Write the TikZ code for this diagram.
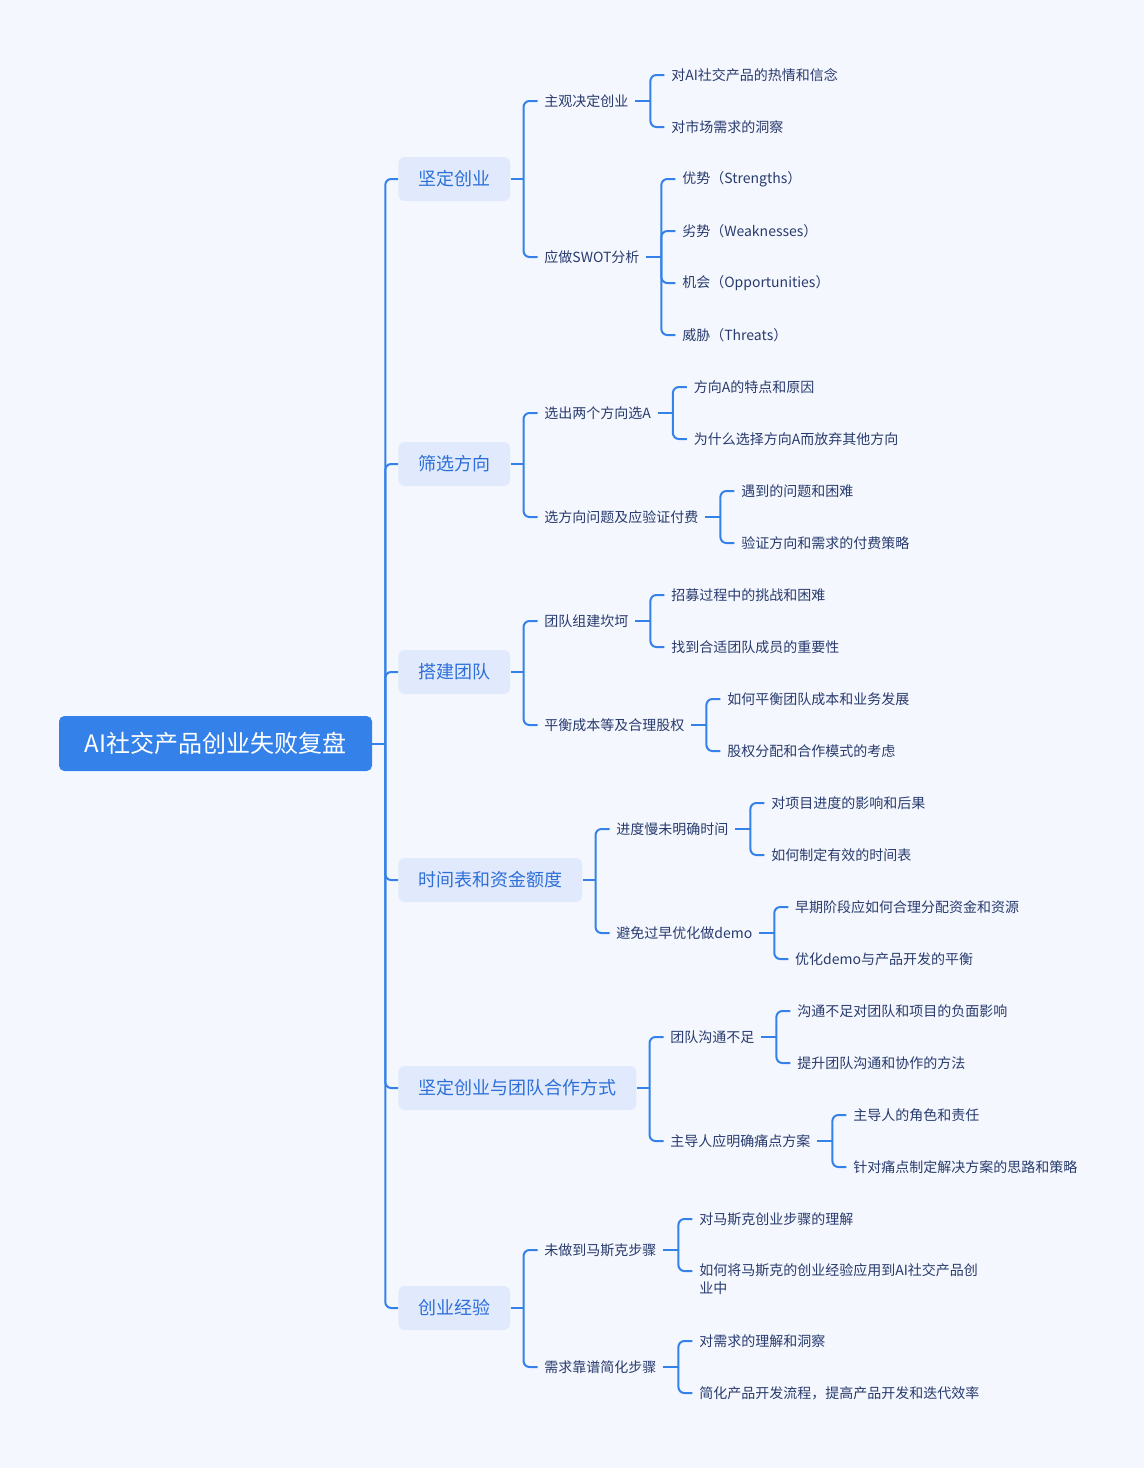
\documentclass[tikz,border=0pt]{standalone}
\usepackage{fontspec}
\setmainfont{Noto Sans CJK SC}
\usepackage{tikz}
\usetikzlibrary{positioning, calc}

\definecolor{paper}{HTML}{F5F7FE}
\definecolor{rootblue}{HTML}{3381E9}
\definecolor{topicfill}{HTML}{E1EAFC}
\definecolor{topicblue}{HTML}{2D6FD9}
\definecolor{leafnavy}{HTML}{283B6E}
\definecolor{linkblue}{HTML}{3381E9}

\begin{document}
\begin{tikzpicture}[x=0.75pt, y=-0.75pt,
    rootbox/.style={rectangle, fill=rootblue, rounded corners=4pt, text=white, font=\fontsize{18}{22}\selectfont, minimum width=234.75pt, minimum height=41.25pt},
    topic/.style={rectangle, fill=topicfill, rounded corners=5pt, text=topicblue, font=\fontsize{13.5}{16}\selectfont, inner xsep=15pt, minimum height=33pt, anchor=west},
    leaf/.style={text=leafnavy, font=\fontsize{10.5}{13.5}\selectfont, inner xsep=5pt, inner ysep=2pt, anchor=west},
    link/.style={draw=linkblue, line width=1.5pt, rounded corners=4.5pt}]
    \fill[paper] (0,0) rectangle (1144,1468);
    \node[rootbox] (ai) at (215.5,743.5) {AI社交产品创业失败复盘};
    \coordinate (ai-t) at ($(ai.east)+(13,0)$);
    \draw[link] (ai.east) -- (ai-t);
    % first level
    \foreach \n/\y/\t in {jd/179/坚定创业, sx/464/筛选方向, dj/672/搭建团队, sj/880/时间表和资金额度, hz/1088/坚定创业与团队合作方式, jy/1308/创业经验} {
        \node[topic] (\n) at (398,\y) {\t};
        \draw[link] (ai-t) |- (\n.west);
        \coordinate (\n-t) at ($(\n.east)+(13,0)$);
        \draw[link] (\n.east) -- (\n-t);
    }
    % second level
    \foreach \p/\n/\y/\t in {jd/jd1/101/主观决定创业, jd/jd2/257/应做SWOT分析,
        sx/sx1/413/选出两个方向选A, sx/sx2/517/选方向问题及应验证付费,
        dj/dj1/621/团队组建坎坷, dj/dj2/725/平衡成本等及合理股权,
        sj/sj1/829/进度慢未明确时间, sj/sj2/933/避免过早优化做demo,
        hz/hz1/1037/团队沟通不足, hz/hz2/1141/主导人应明确痛点方案,
        jy/jy1/1250/未做到马斯克步骤, jy/jy2/1367/需求靠谱简化步骤} {
        \node[leaf] (\n) at ($(\p-t |- 0,\y)+(14,0)$) {\t};
        \draw[link] (\p-t) |- (\n.west);
        \coordinate (\n-t) at ($(\n.east)+(15,0)$);
        \draw[link] (\n.east) -- (\n-t);
    }
    % third level
    \foreach \p/\n/\y/\t in {jd1/jd11/75/对AI社交产品的热情和信念, jd1/jd12/127/对市场需求的洞察,
        jd2/jd21/179/优势（Strengths）, jd2/jd22/231/劣势（Weaknesses）,
        jd2/jd23/283/机会（Opportunities）, jd2/jd24/335/威胁（Threats）,
        sx1/sx11/387/方向A的特点和原因, sx1/sx12/439/为什么选择方向A而放弃其他方向,
        sx2/sx21/491/遇到的问题和困难, sx2/sx22/543/验证方向和需求的付费策略,
        dj1/dj11/595/招募过程中的挑战和困难, dj1/dj12/647/找到合适团队成员的重要性,
        dj2/dj21/699/如何平衡团队成本和业务发展, dj2/dj22/751/股权分配和合作模式的考虑,
        sj1/sj11/803/对项目进度的影响和后果, sj1/sj12/855/如何制定有效的时间表,
        sj2/sj21/907/早期阶段应如何合理分配资金和资源, sj2/sj22/959/优化demo与产品开发的平衡,
        hz1/hz11/1011/沟通不足对团队和项目的负面影响, hz1/hz12/1063/提升团队沟通和协作的方法,
        hz2/hz21/1115/主导人的角色和责任, hz2/hz22/1167/针对痛点制定解决方案的思路和策略,
        jy1/jy11/1219/对马斯克创业步骤的理解,
        jy2/jy21/1341/对需求的理解和洞察, jy2/jy22/1393/简化产品开发流程，提高产品开发和迭代效率} {
        \node[leaf] (\n) at ($(\p-t |- 0,\y)+(14,0)$) {\t};
        \draw[link] (\p-t) |- (\n.west);
    }
    % two-line leaf
    \coordinate (jy12-in) at ($(jy1-t |- 0,1271)+(14,0)$);
    \node[leaf, anchor=north west, align=left] (jy12) at ($(jy12-in)+(0,-10)$) {如何将马斯克的创业经验应用到AI社交产品创\\业中};
    \draw[link] (jy1-t) |- (jy12-in);
\end{tikzpicture}
\end{document}
